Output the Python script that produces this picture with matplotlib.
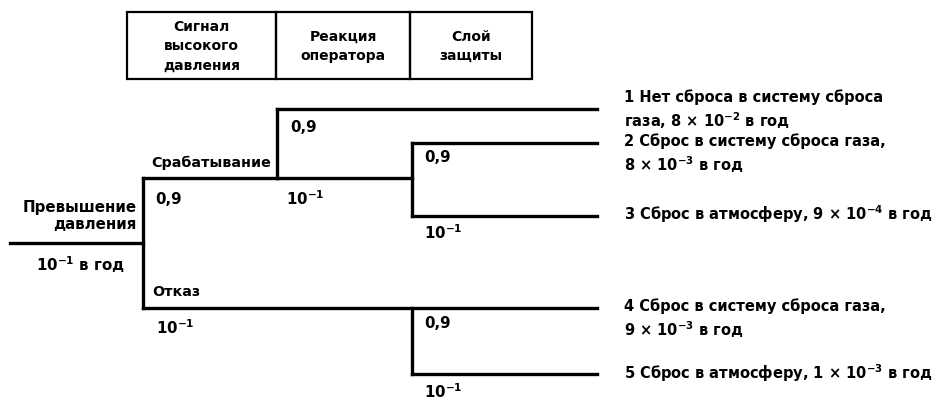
import matplotlib.pyplot as plt
from matplotlib.patches import Rectangle

plt.rcParams['font.family'] = ['DejaVu Sans']
plt.rcParams['font.weight'] = 'bold'
plt.rcParams['mathtext.fontset'] = 'custom'
plt.rcParams['mathtext.rm'] = 'DejaVu Sans:bold'
plt.rcParams['mathtext.it'] = 'DejaVu Sans:bold'
plt.rcParams['mathtext.bf'] = 'DejaVu Sans:bold'

# column headers of the event tree
headers = ["Сигнал\nвысокого\nдавления", "Реакция\nоператора", "Слой\nзащиты"]

# initiating event
initiator = "Превышение\nдавления"
initiator_freq = "10$^{-1}$ в год"

# branch labels (success / failure) per split
p_success = "0,9"
p_fail = "10$^{-1}$"
split_names = ["Срабатывание", "Отказ"]

# outcomes (top to bottom)
outcomes = [
    "1 Нет сброса в систему сброса\nгаза, 8 × 10$^{-2}$ в год",
    "2 Сброс в систему сброса газа,\n8 × 10$^{-3}$ в год",
    "3 Сброс в атмосферу, 9 × 10$^{-4}$ в год",
    "4 Сброс в систему сброса газа,\n9 × 10$^{-3}$ в год",
    "5 Сброс в атмосферу, 1 × 10$^{-3}$ в год",
]

# layout (pixels)
W, H = 940, 401
col_x = [143, 277, 412]
x_start, x_end = 10, 597
y_init = 243
leaf_y = [109, 143, 216, 308, 374]
box_x = [127, 276, 410, 532]
box_top, box_bot = 12, 79
lw = 2.4
fs = 10.8

fig = plt.figure(figsize=(9.4, 4.01), dpi=100)
ax = fig.add_axes([0, 0, 1, 1])
ax.set_xlim(0, W)
ax.set_ylim(H, 0)
ax.axis('off')

# header table
for i, h in enumerate(headers):
    ax.add_patch(Rectangle((box_x[i], box_top), box_x[i + 1] - box_x[i], box_bot - box_top,
                           fill=False, lw=1.6, ec='black'))
    ax.text((box_x[i] + box_x[i + 1]) / 2, (box_top + box_bot) / 2 + 1, h,
            ha='center', va='center', fontsize=fs - 0.8, linespacing=1.5)

def seg(x0, y0, x1, y1):
    ax.plot([x0, x1], [y0, y1], color='black', lw=lw, solid_capstyle='projecting')

# tree lines
y_up1 = 178
y_lo1 = leaf_y[3]
seg(x_start, y_init, col_x[0], y_init)
seg(col_x[0], y_up1, col_x[0], y_lo1)
seg(col_x[0], y_up1, col_x[1], y_up1)
seg(col_x[1], leaf_y[0], col_x[1], y_up1)
seg(col_x[1], leaf_y[0], x_end, leaf_y[0])
seg(col_x[1], y_up1, col_x[2], y_up1)
seg(col_x[2], leaf_y[1], col_x[2], leaf_y[2])
seg(col_x[2], leaf_y[1], x_end, leaf_y[1])
seg(col_x[2], leaf_y[2], x_end, leaf_y[2])
seg(col_x[0], y_lo1, x_end, y_lo1)
seg(col_x[2], leaf_y[3], col_x[2], leaf_y[4])
seg(col_x[2], leaf_y[4], x_end, leaf_y[4])

# initiator texts
ax.text(137, 216, initiator, ha='right', va='center', fontsize=fs, linespacing=1.15)
ax.text(80, 265, initiator_freq, ha='center', va='center', fontsize=fs)

# split labels
ax.text(271, 163, split_names[0], ha='right', va='center', fontsize=fs - 0.5)
ax.text(152, 292, split_names[1], ha='left', va='center', fontsize=fs - 0.5)

# probabilities
ax.text(155, 199, p_success, ha='left', va='center', fontsize=fs)
ax.text(156, 328, p_fail, ha='left', va='center', fontsize=fs)
ax.text(290, 127, p_success, ha='left', va='center', fontsize=fs)
ax.text(286, 199, p_fail, ha='left', va='center', fontsize=fs)
ax.text(424, 158, p_success, ha='left', va='center', fontsize=fs)
ax.text(424, 233, p_fail, ha='left', va='center', fontsize=fs)
ax.text(424, 323, p_success, ha='left', va='center', fontsize=fs)
ax.text(424, 392, p_fail, ha='left', va='center', fontsize=fs)

# outcome labels
out_y = [110, 154, 214, 319, 373]
for t, y in zip(outcomes, out_y):
    ax.text(624, y, t, ha='left', va='center', fontsize=fs - 0.3, linespacing=1.3)

fig.savefig('out.png', dpi=100)
